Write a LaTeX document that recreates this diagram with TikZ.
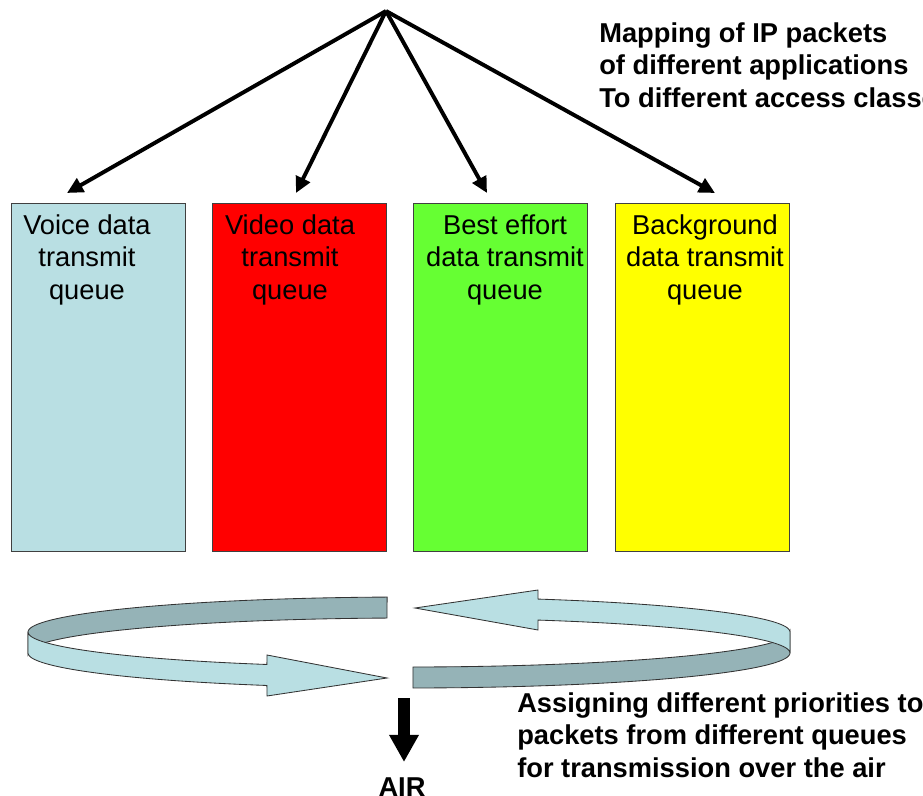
\documentclass[tikz,border=0pt]{standalone}
\usepackage{fontspec}
\setmainfont{Liberation Sans}
\usetikzlibrary{arrows.meta}
\definecolor{azzurro}{RGB}{185,223,227}
\definecolor{grigioblu}{RGB}{149,179,183}
\definecolor{verde}{RGB}{102,255,51}
\definecolor{rosso}{RGB}{255,0,0}
\definecolor{giallo}{RGB}{255,255,0}
\begin{document}
\begin{tikzpicture}[x=0.025cm,y=-0.025cm,
    coda/.style={draw=black!75,line width=0.6pt,anchor=north west,inner sep=0pt,
                 minimum width=4.35cm,minimum height=8.7cm},
    testo/.style={align=center,inner sep=0pt,anchor=base,
                  font=\fontsize{19.4}{22.8}\selectfont},
    nota/.style={align=left,inner sep=0pt,anchor=base west,
                 font=\fontsize{19.4}{22.8}\selectfont\bfseries},
    freccia/.style={line width=2.8pt,-{Triangle[length=0.4cm,width=0.38cm]}},
    nastro/.style={draw=black!80,line width=0.6pt}]
        % --- macro riutilizzabili -----------------------------------------
        \def\centrox{409}    % centro dell'ellisse
        \def\centroy{632}
        \def\sotto{653}      % bordo inferiore del nastro
        \def\semiassea{381}  % semiasse orizzontale
        \def\semiasseb{35}   % semiasse verticale
        \useasboundingbox (0,0) rectangle (923,796);
        % --- code di trasmissione -----------------------------------------
        \node[coda,fill=azzurro] (voce)  at ( 11,203) {};
        \node[coda,fill=rosso]   (video) at (212,203) {};
        \node[coda,fill=verde]   (best)  at (413,203) {};
        \node[coda,fill=giallo]  (fondo) at (615,203) {};
        % (base = ultima riga)
        \node[testo] (tvoce)  at ( 87,299) {Voice data\\transmit\\queue};
        \node[testo] (tvideo) at (290,299) {Video data\\transmit\\queue};
        \node[testo] (tbest)  at (505,299) {Best effort\\data transmit\\queue};
        \node[testo] (tfondo) at (705,299) {Background\\data transmit\\queue};
        % --- smistamento dei pacchetti ------------------------------------
        \coordinate (sorgente) at (386,11);
        \coordinate (pvoce)  at ( 67,193);
        \coordinate (pvideo) at (296,193);
        \coordinate (pbest)  at (487,193);
        \coordinate (pfondo) at (715,193);
        \foreach \p in {pvoce,pvideo,pbest,pfondo}
            \draw[freccia] (sorgente) -- (\p);
        \node[nota] (mappa) at (599,107)
            {Mapping of IP packets\\of different applications\\To different access classes};
        % --- nastro circolare ---------------------------------------------
        \filldraw[nastro,fill=grigioblu]
            plot[domain=93.3:180,samples=40] ({\centrox+\semiassea*cos(\x)},{\centroy-\semiasseb*sin(\x)})
            -- plot[domain=180:93.3,samples=40] ({\centrox+\semiassea*cos(\x)},{\sotto-\semiasseb*sin(\x)}) -- cycle;
        \filldraw[nastro,fill=grigioblu]
            plot[domain=270.6:360,samples=40] ({\centrox+\semiassea*cos(\x)},{\centroy-\semiasseb*sin(\x)})
            -- plot[domain=360:270.6,samples=40] ({\centrox+\semiassea*cos(\x)},{\sotto-\semiasseb*sin(\x)}) -- cycle;
        \filldraw[nastro,fill=azzurro]
            plot[domain=180:248.1,samples=40] ({\centrox+\semiassea*cos(\x)},{\centroy-\semiasseb*sin(\x)})
            -- (267,655) -- (387,678) -- (267,696)
            -- plot[domain=248.1:180,samples=40] ({\centrox+\semiassea*cos(\x)},{\sotto-\semiasseb*sin(\x)}) -- cycle;
        \filldraw[nastro,fill=azzurro]
            plot[domain=0:70.2,samples=40] ({\centrox+\semiassea*cos(\x)},{\centroy-\semiasseb*sin(\x)})
            -- (538,590) -- (415,608) -- (538,630)
            -- plot[domain=70.2:0,samples=40] ({\centrox+\semiassea*cos(\x)},{\sotto-\semiasseb*sin(\x)}) -- cycle;
        % --- uscita verso l'aria ------------------------------------------
        \coordinate (giu) at (404,698);
        \node[testo,font=\fontsize{19.4}{22.8}\selectfont\bfseries] (aria) at (402,796) {AIR};
        \coordinate (punta) at (404,762);
        \draw[line width=8.5pt,-{Triangle[length=0.68cm,width=0.7cm]}] (giu) -- (punta);
        \node[nota] (priorita) at (517,777)
            {Assigning different priorities to\\packets from different queues\\for transmission over the air};
    \end{tikzpicture}
\end{document}
